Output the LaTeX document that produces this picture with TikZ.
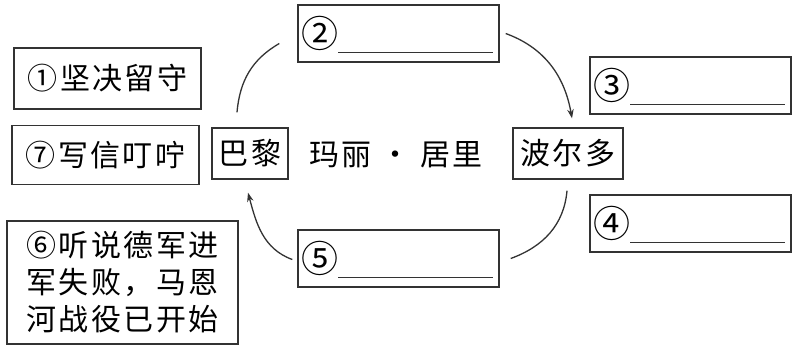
\documentclass[tikz,border=0pt]{standalone}
\usepackage{fontspec}
\setmainfont{Noto Sans CJK SC}[LetterSpace=8]
\usetikzlibrary{arrows.meta,calc}
\begin{document}
\begin{tikzpicture}[x=1pt,y=-1pt,
  box/.style={draw=black!80,line width=1.4pt,inner sep=0pt,font=\fontsize{30}{37}\selectfont},
  blank/.style={box,minimum width=201pt,minimum height=57pt},
  num/.style={inner sep=0pt,font=\fontsize{37}{37}\selectfont},
  conn/.style={draw=black!80,line width=1.3pt},
  arr/.style={conn,-{Stealth[length=9pt,width=6.5pt]}},
  uline/.style={draw=black!80,line width=1.2pt}]
\useasboundingbox (0,0) rectangle (797,346);
% text boxes
\node[box,minimum width=187pt,minimum height=61pt] (n1) at (107.5,78.5) {①坚决留守};
\node[box,minimum width=187pt,minimum height=59pt] (n7) at (105.5,155) {⑦写信叮咛};
\node[box,minimum width=76pt,minimum height=51pt] (paris) at (250,153.5) {巴黎};
\node[inner sep=0pt,font=\fontsize{30}{37}\selectfont] (name) at (396,155) {玛丽 · 居里};
\node[box,minimum width=110pt,minimum height=51pt] (bord) at (568,153.5) {波尔多};
\node[box,minimum width=231pt,minimum height=123pt,align=center] (n6) at (122.5,282.5) {⑥听说德军进\\军失败，马恩\\河战役已开始};
% blank boxes
\node[blank] (n2) at (398.5,33.5) {};
\node[blank] (n3) at (690.5,85.5) {};
\node[blank] (n4) at (690.5,223.5) {};
\node[blank] (n5) at (398.5,258.5) {};
\foreach \b/\d in {n2/②,n3/③,n4/④,n5/⑤}{
  \node[num,anchor=west] (\b c) at ($(\b.west)+(4,0)$) {\d};
  \draw[uline] ($(\b.south west)+(41,-10)$) -- ($(\b.south east)+(-7,-10)$);
}
% connectors
\draw[conn] ($(paris.north)+(-13,-15)$) to[out=85,in=210] ($(n2.west)+(-18,10)$);
\draw[arr] ($(n2.east)+(6,0)$) to[out=-20,in=100] ($(bord.north)+(4,-9)$);
\draw[conn] ($(bord.south)+(-1,11)$) to[out=-95,in=20] ($(n5.east)+(11,0)$);
\draw[arr] ($(n5.west)+(-5,1)$) to[out=160,in=-75] ($(paris.south)+(-2,13)$);
\end{tikzpicture}
\end{document}
